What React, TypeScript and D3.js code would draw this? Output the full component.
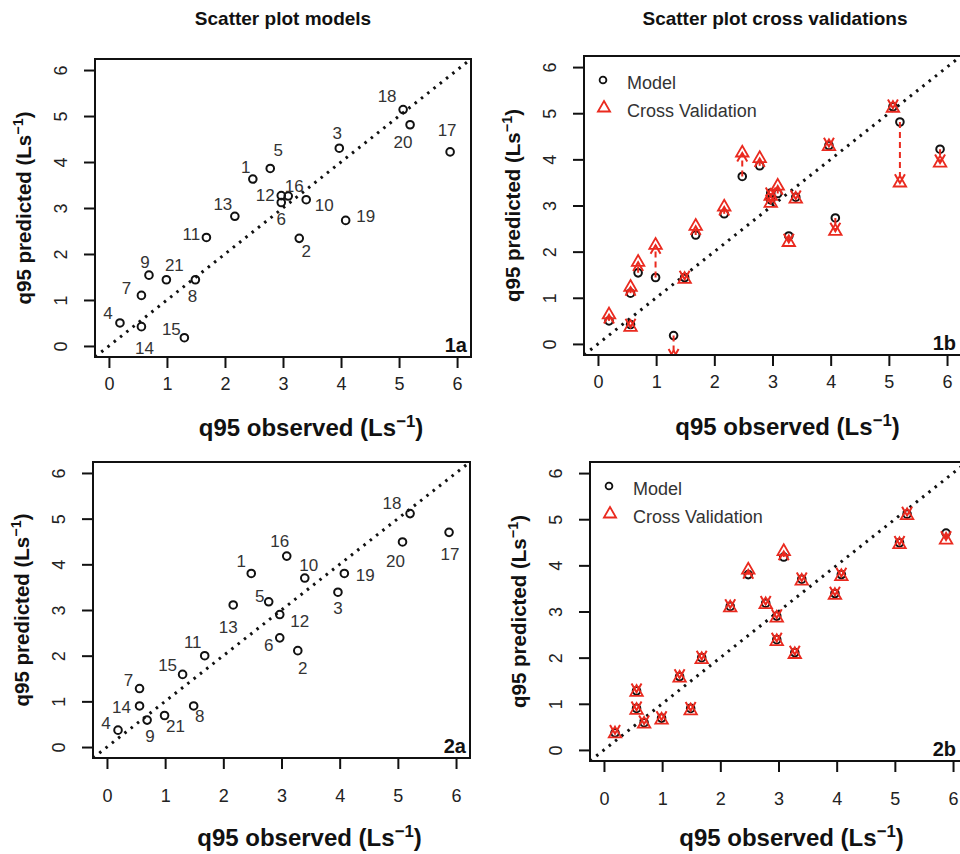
import { useEffect, useRef } from 'react'
import * as d3 from 'd3'

// station ids, same order in every array below
const STATION_IDS = ['1','2','3','4','5','6','7','8','9','10','11','12','13','14','15','16','17','18','19','20','21']

// q95 observed (Ls-1)
const OBSERVED_M1 = [2.48, 3.28, 3.97, 0.19, 2.78, 2.97, 0.56, 1.49, 0.69, 3.40, 1.68, 2.97, 2.17, 0.56, 1.30, 3.09, 5.88, 5.07, 4.08, 5.19, 0.99]
const OBSERVED_M2 = [2.48, 3.28, 3.97, 0.19, 2.78, 2.97, 0.56, 1.49, 0.69, 3.40, 1.68, 2.97, 2.17, 0.56, 1.30, 3.09, 5.88, 5.21, 4.08, 5.08, 0.99]

// model 1: fitted and cross validated
const PREDICTED_M1 = [3.63, 2.34, 4.30, 0.50, 3.86, 3.12, 1.10, 1.44, 1.54, 3.18, 2.36, 3.27, 2.82, 0.42, 0.18, 3.26, 4.22, 5.14, 2.73, 4.81, 1.44]
const CROSSVAL_M1  = [4.14, 2.20, 4.28, 0.63, 4.02, 3.05, 1.23, 1.40, 1.77, 3.14, 2.55, 3.20, 2.97, 0.36, -0.30, 3.42, 3.92, 5.11, 2.44, 3.49, 2.14]

// model 2: fitted and cross validated
const PREDICTED_M2 = [3.80, 2.11, 3.39, 0.37, 3.18, 2.39, 1.28, 0.90, 0.59, 3.70, 2.00, 2.90, 3.11, 0.90, 1.59, 4.18, 4.70, 5.11, 3.80, 4.49, 0.69]
const CROSSVAL_M2  = [3.90, 2.07, 3.35, 0.35, 3.15, 2.35, 1.25, 0.85, 0.56, 3.66, 1.96, 2.86, 3.08, 0.86, 1.56, 4.30, 4.55, 5.08, 3.76, 4.45, 0.65]

const AXIS_TICKS = [0, 1, 2, 3, 4, 5, 6]
const AXIS_DOMAIN = [-0.24, 6.24]

const COLUMN_TITLES = ['Scatter plot models', 'Scatter plot cross validations']
const LEGEND_LABELS = ['Model', 'Cross Validation']

// where each station number sits relative to its point (px)
const LABEL_OFFSETS_M1 = [
  [-7, -12], [7, 13], [-2, -15], [-12, -10], [8, -19], [0, 16], [-15, -7], [-3, 16], [-4, -13], [18, 5], [-15, -4],
  [-16, -1], [-12, -12], [3, 21], [-13, -9], [6, -10], [-3, -22], [-16, -14], [20, -5], [-7, 17], [8, -15],
]
const LABEL_OFFSETS_M2 = [
  [-10, -13], [5, 17], [0, 16], [-12, -7], [-9, -6], [-11, 7], [-11, -9], [6, 10], [3, 16], [4, -13], [-12, -14],
  [20, 6], [-5, 22], [-18, 1], [-15, -10], [-7, -15], [1, 22], [-18, -11], [21, 1], [-7, 19], [11, 10],
]

const RED = '#ea2a1f'
const FONT = '"Liberation Sans", Arial, Helvetica, sans-serif'

const PANELS = [
  { tag: '1a', left: 95, top: 59, right: 471, bottom: 357, tickGap: 9, titleGap: 79, titleShift: 28, obs: OBSERVED_M1, pred: PREDICTED_M1, cv: null, offsets: LABEL_OFFSETS_M1 },
  { tag: '1b', left: 584, top: 56, right: 961, bottom: 355, tickGap: 9, titleGap: 80, titleShift: 15, obs: OBSERVED_M1, pred: PREDICTED_M1, cv: CROSSVAL_M1, offsets: null },
  { tag: '2a', left: 93, top: 462, right: 470, bottom: 758, tickGap: 20, titleGap: 88, titleShift: 28, obs: OBSERVED_M2, pred: PREDICTED_M2, cv: null, offsets: LABEL_OFFSETS_M2 },
  { tag: '2b', left: 590, top: 462, right: 967, bottom: 761, tickGap: 20, titleGap: 85, titleShift: 13, obs: OBSERVED_M2, pred: PREDICTED_M2, cv: CROSSVAL_M2, offsets: null },
]

function trianglePath(cx: number, cy: number, r: number) {
  const hw = r * Math.sqrt(3) / 2
  return `M${cx},${cy - r}L${cx + hw},${cy + r / 2}L${cx - hw},${cy + r / 2}Z`
}

function addUnitLabel(sel: any, text: string) {
  sel.append('tspan').text(text + ' (Ls')
  sel.append('tspan').attr('font-size', '0.7em').attr('dy', '-0.55em').text('\u22121')
  sel.append('tspan').attr('dy', '0.385em').text(')')
}

export default function App() {
  const svgRef = useRef<SVGSVGElement>(null)

  useEffect(() => {
    const svg = d3.select(svgRef.current)
    svg.selectAll('*').remove()

    // column titles
    const colCenters = [283, 775]
    COLUMN_TITLES.forEach((t, i) => {
      svg.append('text').attr('x', colCenters[i]).attr('y', 25).attr('text-anchor', 'middle')
        .attr('font-family', FONT).attr('font-weight', 700).attr('font-size', 19).attr('fill', '#111').text(t)
    })

    PANELS.forEach(p => {
      const x = d3.scaleLinear().domain(AXIS_DOMAIN).range([p.left, p.right])
      const y = d3.scaleLinear().domain(AXIS_DOMAIN).range([p.bottom, p.top])
      const g = svg.append('g')
      const clipId = `clip-${p.tag}`
      g.append('clipPath').attr('id', clipId).append('rect')
        .attr('x', p.left).attr('y', p.top).attr('width', p.right - p.left).attr('height', p.bottom - p.top)
      const plot = g.append('g').attr('clip-path', `url(#${clipId})`)

      // axes
      g.append('g').attr('transform', `translate(0,${p.bottom})`)
        .call(d3.axisBottom(x).tickValues(AXIS_TICKS).tickSize(11).tickPadding(p.tickGap).tickFormat(d3.format('d')))
        .call(a => {
          a.select('.domain').remove()
          a.selectAll('.tick line').attr('stroke', '#111').attr('stroke-width', 2)
          a.selectAll('.tick text').attr('fill', '#222').attr('font-size', 18).attr('font-family', FONT)
        })
      g.append('g').attr('transform', `translate(${p.left},0)`)
        .call(d3.axisLeft(y).tickValues(AXIS_TICKS).tickSize(11).tickFormat(d3.format('d')))
        .call(a => {
          a.select('.domain').remove()
          a.selectAll('.tick line').attr('stroke', '#111').attr('stroke-width', 2)
          a.selectAll('.tick text').attr('fill', '#222').attr('font-size', 18).attr('font-family', FONT)
            .attr('x', 0).attr('y', -34).attr('dy', '0.36em').attr('text-anchor', 'middle').attr('transform', 'rotate(-90)')
        })

      // axis titles
      g.append('text').attr('x', (p.left + p.right) / 2 + p.titleShift).attr('y', p.bottom + p.titleGap).attr('text-anchor', 'middle')
        .attr('font-family', FONT).attr('font-weight', 700).attr('font-size', 24).attr('fill', '#111')
        .call(s => addUnitLabel(s, 'q95 observed'))
      const cy = (p.top + p.bottom) / 2
      g.append('text').attr('transform', `translate(${p.left - 64},${cy}) rotate(-90)`).attr('text-anchor', 'middle')
        .attr('font-family', FONT).attr('font-weight', 700).attr('font-size', 20.5).attr('fill', '#111')
        .call(s => addUnitLabel(s, 'q95 predicted'))

      // 1:1 line
      plot.append('line')
        .attr('x1', x(AXIS_DOMAIN[0])).attr('y1', y(AXIS_DOMAIN[0]))
        .attr('x2', x(AXIS_DOMAIN[1])).attr('y2', y(AXIS_DOMAIN[1]))
        .attr('stroke', '#111').attr('stroke-width', 3).attr('stroke-dasharray', '2.5,5.5')

      const idx = d3.range(STATION_IDS.length)

      // model points
      plot.selectAll('circle.model').data(idx).join('circle').attr('class', 'model')
        .attr('cx', i => x(p.obs[i])).attr('cy', i => y(p.pred[i])).attr('r', 3.8)
        .attr('fill', 'none').attr('stroke', '#111').attr('stroke-width', 2)

      if (p.offsets) {
        const offs = p.offsets
        g.selectAll('text.lab').data(idx).join('text').attr('class', 'lab')
          .attr('x', i => x(p.obs[i]) + offs[i][0]).attr('y', i => y(p.pred[i]) + offs[i][1])
          .attr('dy', '0.36em').attr('text-anchor', 'middle')
          .attr('font-family', FONT).attr('font-size', 17).attr('fill', '#333')
          .text(i => STATION_IDS[i])
      }

      if (p.cv) {
        const cv = p.cv
        // arrows from model to cross validation
        const arrows = plot.append('g').attr('stroke', RED).attr('fill', 'none').attr('stroke-width', 2)
        idx.forEach(i => {
          const px = x(p.obs[i])
          const y0 = y(p.pred[i])
          const y1 = y(cv[i])
          if (Math.abs(y1 - y0) < 0.5) return
          const dir = Math.sign(y1 - y0)
          arrows.append('line').attr('x1', px).attr('y1', y0).attr('x2', px).attr('y2', y1)
            .attr('stroke-dasharray', '6,4')
          const L = 10
          arrows.append('path')
            .attr('d', `M${px - L * 0.5},${y1 - dir * L * 0.866}L${px},${y1}L${px + L * 0.5},${y1 - dir * L * 0.866}`)
        })
        plot.selectAll('path.cv').data(idx).join('path').attr('class', 'cv')
          .attr('d', i => trianglePath(x(p.obs[i]), y(cv[i]), 7.2))
          .attr('fill', 'none').attr('stroke', RED).attr('stroke-width', 1.8)

        // legend
        const lx = p.left + 19
        const ly = p.top + 24
        g.append('circle').attr('cx', lx).attr('cy', ly).attr('r', 3.4)
          .attr('fill', 'none').attr('stroke', '#111').attr('stroke-width', 1.8)
        g.append('path').attr('d', trianglePath(lx + 1, ly + 28, 7)).attr('fill', 'none').attr('stroke', RED).attr('stroke-width', 1.8)
        LEGEND_LABELS.forEach((t, k) => {
          g.append('text').attr('x', lx + 24).attr('y', ly + 4 + k * 28).attr('dy', '0.3em')
            .attr('font-family', FONT).attr('font-size', 18).attr('fill', '#333').text(t)
        })
      }

      // frame
      g.append('rect').attr('x', p.left).attr('y', p.top).attr('width', p.right - p.left).attr('height', p.bottom - p.top)
        .attr('fill', 'none').attr('stroke', '#111').attr('stroke-width', 2)

      // panel tag
      g.append('text').attr('x', Math.min(p.right, 960) - 4).attr('y', p.bottom - 5).attr('text-anchor', 'end')
        .attr('font-family', FONT).attr('font-weight', 700).attr('font-size', 20).attr('fill', '#111').text(p.tag)
    })
  }, [])

  return (
    <div style={{ position: 'absolute', left: 0, top: 0, width: 960, height: 854, background: '#fff' }}>
      <svg ref={svgRef} width={960} height={854} style={{ display: 'block' }} />
    </div>
  )
}
